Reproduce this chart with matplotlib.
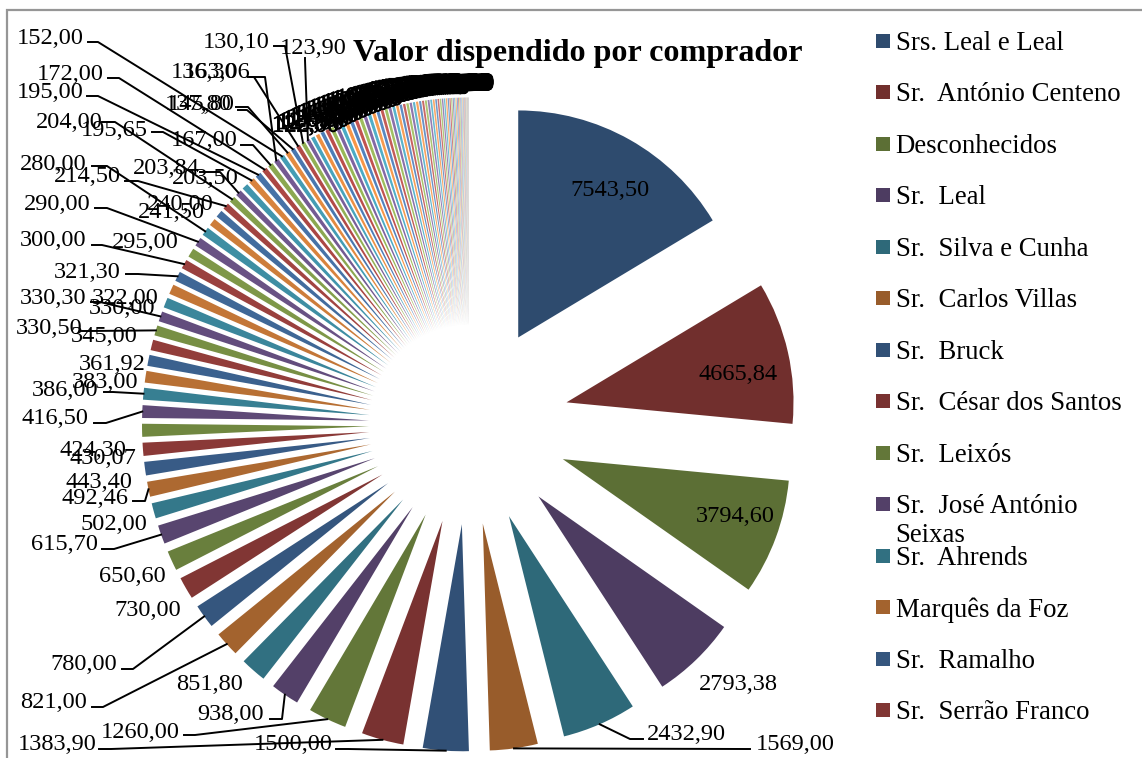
import math
import matplotlib
matplotlib.use("Agg")
import matplotlib.pyplot as plt
import matplotlib.patheffects as pe
from matplotlib.patches import Rectangle

plt.rcParams['font.family'] = ['Liberation Serif', 'DejaVu Serif']

TITLE = "Valor dispendido por comprador"

# named buyers (legend order) with their values
buyers = ["Srs. Leal e Leal", "Sr.  António Centeno", "Desconhecidos", "Sr.  Leal",
          "Sr.  Silva e Cunha", "Sr.  Carlos Villas", "Sr.  Bruck", "Sr.  César dos Santos",
          "Sr.  Leixós", "Sr.  José António\nSeixas", "Sr.  Ahrends", "Marquês da Foz",
          "Sr.  Ramalho", "Sr.  Serrão Franco"]
buyer_values = [7543.50, 4665.84, 3794.60, 2793.38, 2432.90, 1569.00, 1500.00,
                1383.90, 1260.00, 938.00, 851.80, 821.00, 780.00, 730.00]

# further slices with readable labels
other_values = [650.60, 615.70, 502.00, 492.46, 443.40, 430.07, 424.30, 416.50, 386.00, 383.00,
                361.92, 345.00, 330.50, 330.30, 330.00, 322.00, 321.30, 300.00, 295.00, 290.00,
                280.00, 241.50, 240.00, 214.50, 204.00, 203.84, 203.50, 195.65, 195.00, 172.00,
                167.00, 163.06, 152.00, 145.80, 137.80, 136.30, 130.10, 123.90]

# very thin slices, labels overlap into a black band (estimated)
thin_values = [122.0, 121.0, 120.0, 119.0, 118.5, 117.0, 116.0, 115.0,
               112.0, 110.0, 108.0, 106.0, 104.0, 100.0, 98.0, 95.0, 92.0, 90.0, 86.0, 82.0, 78.0,
               77.0, 75.0, 74.0, 72.0, 70.0, 68.0, 65.0, 62.0, 60.0, 58.0, 55.0, 52.0, 50.0, 48.0, 46.0,
               44.0, 42.0, 40.0, 38.0, 36.0, 34.0, 32.0, 30.0, 28.0, 26.0, 25.0, 24.0, 22.0, 20.0,
               18.0, 16.0, 15.0, 14.0, 12.0, 10.0, 9.0, 8.0, 7.0, 6.0, 5.0, 4.0, 3.0, 2.0, 1.5, 1.0]

values = buyer_values + other_values + thin_values
n_named = len(buyer_values) + len(other_values)

BASE = [(0x4f, 0x81, 0xbd), (0xc0, 0x50, 0x4d), (0x9b, 0xbb, 0x59),
        (0x80, 0x64, 0xa2), (0x4b, 0xac, 0xc6), (0xf7, 0x96, 0x46)]


def shade(i, n):
    f = 0.58 + 0.84 * i / max(n - 1, 1)
    b = BASE[i % 6]
    if f <= 1:
        c = [v * f for v in b]
    else:
        c = [v + (255 - v) * (f - 1) for v in b]
    return tuple(v / 255 for v in c)


def fmt(v):
    return f"{v:.2f}".replace('.', ',')


# label layout in pixel coordinates: centre of text
LABEL_POS = {
    "7543,50": (610, 188), "4665,84": (738, 373), "3794,60": (735, 515), "2793,38": (738, 682),
    "2432,90": (686, 733), "1569,00": (795, 743), "1500,00": (293, 743), "1383,90": (57, 743),
    "1260,00": (140, 730), "938,00": (231, 713), "851,80": (210, 683), "821,00": (54, 701),
    "780,00": (84, 663), "730,00": (148, 609), "650,60": (132, 575), "615,70": (64, 543),
    "502,00": (114, 523), "492,46": (95, 496), "443,40": (99, 481), "430,07": (103, 456),
    "424,30": (93, 449), "416,50": (55, 417), "386,00": (65, 389), "383,00": (105, 381),
    "361,92": (112, 362), "345,00": (104, 335), "330,50": (49, 326), "330,30": (53, 297),
    "330,00": (122, 307), "322,00": (125, 297), "321,30": (87, 270), "300,00": (53, 239),
    "295,00": (145, 241), "290,00": (57, 203), "280,00": (53, 163), "241,50": (171, 211),
    "240,00": (180, 203), "214,50": (87, 175), "204,00": (69, 120), "203,84": (166, 167),
    "203,50": (205, 176), "195,65": (114, 128), "195,00": (50, 90), "172,00": (70, 72),
    "167,00": (204, 139), "163,06": (217, 71), "152,00": (50, 36), "145,80": (201, 103),
    "137,80": (198, 103), "136,30": (204, 71), "130,10": (236, 41), "123,90": (313, 46),
}
LABEL_DY = 2

# leader line start and elbow in pixel coordinates; the far end is the slice rim
LEADER = {
    "152,00": [(88, 42), (98, 42)], "172,00": [(108, 78), (119, 78)], "195,00": [(87, 96), (98, 96)],
    "204,00": [(102, 122), (115, 122)], "195,65": [(152, 132), (163, 132)], "167,00": [(241, 145), (253, 145)],
    "203,84": [(200, 172), (220, 172)], "280,00": [(92, 166), (107, 166)], "214,50": [(125, 181), (138, 181)],
    "290,00": [(95, 208), (107, 208)], "300,00": [(92, 245), (102, 245)], "130,10": [(274, 46), (285, 46)],
    "123,90": [(305, 58), (305, 60)], "163,06": [(250, 77), (265, 77)], "136,30": [(248, 77), (254, 77)],
    "145,80": [(236, 107), (248, 107)], "137,80": [(238, 110), (247, 110)], "321,30": [(126, 274), (138, 274)],
    "330,30": [(91, 302), (100, 302)], "330,50": [(82, 331), (90, 331)], "386,00": [(104, 392), (113, 392)],
    "416,50": [(94, 423), (106, 423)], "492,46": [(133, 501), (145, 501)], "615,70": [(102, 549), (114, 549)],
    "780,00": [(122, 669), (133, 669)], "821,00": [(92, 707), (103, 707)], "938,00": [(270, 719), (282, 719)],
    "1260,00": [(184, 735), (195, 735)], "1383,90": [(99, 749), (111, 749)], "1500,00": [(336, 749), (348, 749)],
    "1569,00": [(750, 749), (745, 749)], "2432,90": [(643, 739), (630, 739)],
}

CX, CY, R, OFF = 469, 424.5, 227, 100
THIN_LABEL_R = 342
FS = 17.6
LEGEND_FS = 19.3

fig = plt.figure(figsize=(11.42, 7.58), dpi=100, facecolor='white')
ax = fig.add_axes([0, 0, 1, 1])

colors = [shade(i, len(values)) for i in range(len(values))]
wedges, _ = ax.pie(values, colors=colors, explode=[OFF] * len(values), radius=R, center=(CX, CY),
                   startangle=-90, counterclock=True, frame=True, normalize=True,
                   wedgeprops={'linewidth': 0})
ax.set_xlim(0, 1142)
ax.set_ylim(758, 0)
ax.axis('off')

# frame
ax.plot([6.5, 6.5, 1142], [758, 10, 10], color='#969696', lw=1.6, solid_joinstyle='miter', zorder=1)

for i, (w, v) in enumerate(zip(wedges, values)):
    s = fmt(v)
    mid = math.radians((w.theta1 + w.theta2) / 2)
    if i < n_named:
        if s in LEADER:
            rim = (w.center[0] + R * math.cos(mid), w.center[1] + R * math.sin(mid))
            pts = LEADER[s] + [rim]
            ax.plot([p[0] for p in pts], [p[1] for p in pts], color='black', lw=1.4, zorder=4)
        x, y = LABEL_POS[s]
        y += LABEL_DY
        ax.text(x, y, s, ha='center', va='center', fontsize=FS, color='black', zorder=5)
    else:
        x = CX + THIN_LABEL_R * math.cos(mid)
        y = CY + THIN_LABEL_R * math.sin(mid) + LABEL_DY
        ax.text(x, y, s, ha='center', va='center', fontsize=FS, color='black', zorder=5,
                path_effects=[pe.withStroke(linewidth=0.6, foreground='black')])

ax.text(578, 53, TITLE, ha='center', va='center', fontsize=23.1, fontweight='bold', color='black', zorder=6)

# legend
for i, (name, col) in enumerate(zip(buyers, colors)):
    yc = 41 + i * 51.46
    ax.add_patch(Rectangle((876, yc - 7), 14, 14, facecolor=col, edgecolor='none'))
    ax.text(895.5, yc - 10, name, ha='left', va='top', fontsize=LEGEND_FS, color='black', linespacing=1.2)

fig.savefig('out.png', dpi=100, facecolor='white')
